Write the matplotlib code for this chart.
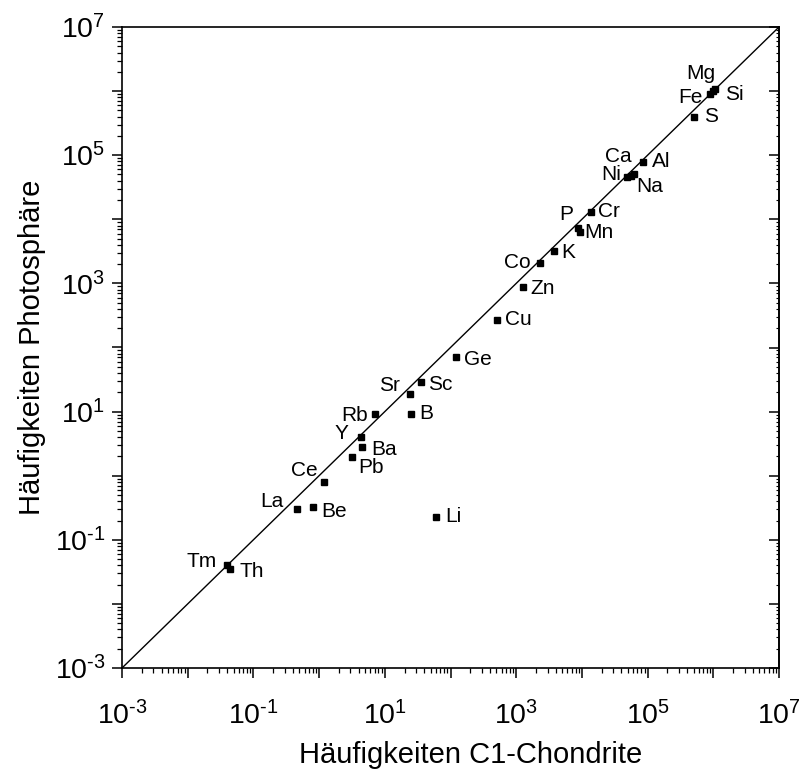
import numpy as np
import matplotlib.pyplot as plt
import matplotlib.ticker as ticker

plt.rcParams['font.family'] = ['Liberation Sans', 'DejaVu Sans']
plt.rcParams['mathtext.fontset'] = 'custom'
plt.rcParams['mathtext.rm'] = 'Liberation Sans'

# element labels, chondrite abundance (x), photosphere abundance (y)
elements = ['Mg', 'Si', 'Fe', 'S', 'Al', 'Ca', 'Na', 'Ni', 'Cr', 'P', 'Mn', 'K',
            'Co', 'Zn', 'Cu', 'Ge', 'Sc', 'Sr', 'B', 'Rb', 'Y', 'Ba', 'Pb', 'Ce',
            'La', 'Be', 'Li', 'Tm', 'Th']
chondrite = [1.07e6, 1.0e6, 8.9e5, 5.0e5, 8.6e4, 6.2e4, 5.5e4, 4.9e4, 1.38e4, 8.8e3,
             9.3e3, 3.8e3, 2.3e3, 1.28e3, 517, 121, 35, 24, 24.8, 7.1, 4.3, 4.55,
             3.13, 1.19, 0.456, 0.82, 60, 0.039, 0.044]
photosphere = [1.07e6, 1.0e6, 8.9e5, 4.0e5, 7.7e4, 5.1e4, 4.8e4, 4.5e4, 1.3e4, 7.2e3,
               6.4e3, 3.2e3, 2.06e3, 890, 269, 72, 28.6, 18.6, 9.2, 9.1, 4.06, 2.83,
               1.96, 0.81, 0.30, 0.32, 0.224, 0.040, 0.035]
# label offsets in pixels (dx, dy)
offsets = [(-14, 16), (21, -3), (-20, -3), (18, 0), (18, 1), (-16, 17), (19, -11),
           (-16, 3), (18, 0), (-12, 14), (19, -1), (14, -1), (-23, 1), (19, -2),
           (21, 0), (22, -3), (20, -2), (-20, 9), (16, 0), (-20, -1), (-19, 3),
           (22, -3), (19, -11), (-20, 11), (-25, 8), (21, -4), (17, 1), (-25, 4),
           (22, -2)]

lims = [1e-3, 1e7]

fig = plt.figure(figsize=(8.01, 7.71), dpi=100)
ax = fig.add_axes([122 / 801, 103 / 771, 657 / 801, 641 / 771])

ax.plot(lims, lims, color='black', lw=1.0)
ax.plot(chondrite, photosphere, 's', color='black', markersize=4.5, lw=0)
for name, x, y, (dx, dy) in zip(elements, chondrite, photosphere, offsets):
    ax.annotate(name, (x, y), xytext=(dx, dy), textcoords='offset pixels',
                ha='center', va='center', fontsize=15)

ax.set_xscale('log')
ax.set_yscale('log')
ax.set_xlim(lims)
ax.set_ylim(lims)

major = ticker.LogLocator(base=10, numticks=20)
minor = ticker.LogLocator(base=10, subs=np.arange(2, 10), numticks=20)


def fmt(v, pos):
    e = int(round(np.log10(v)))
    if e % 2 == 0:
        return ''
    return r'$\mathregular{10^{%s}}$' % (r'\text{-}%d' % -e if e < 0 else '%d' % e)


for axis in (ax.xaxis, ax.yaxis):
    axis.set_major_locator(major)
    axis.set_minor_locator(minor)
    axis.set_major_formatter(ticker.FuncFormatter(fmt))
    axis.set_minor_formatter(ticker.NullFormatter())

ax.tick_params(which='major', direction='out', length=7, width=1.1, labelsize=20.5,
               top=False, right=False)
ax.tick_params(which='minor', direction='out', length=3.5, width=0.9,
               top=False, right=False)
ax.tick_params(axis='x', pad=17)
ax.tick_params(axis='y', pad=5)

# inward ticks on the right side
sec = ax.secondary_yaxis('right')
sec.yaxis.set_major_locator(major)
sec.yaxis.set_minor_locator(minor)
sec.yaxis.set_major_formatter(ticker.NullFormatter())
sec.yaxis.set_minor_formatter(ticker.NullFormatter())
sec.tick_params(which='major', direction='in', length=7, width=1.1)
sec.tick_params(which='minor', direction='in', length=2, width=0.8)

for s in ax.spines.values():
    s.set_linewidth(1.2)
sec.spines['right'].set_linewidth(1.2)

ax.set_xlabel('Häufigkeiten C1-Chondrite', fontsize=21)
ax.set_ylabel('Häufigkeiten Photosphäre', fontsize=21)
ax.xaxis.set_label_coords(0.53, -0.114)
ax.yaxis.set_label_coords(-0.115, 0.5)

fig.savefig('out.png', dpi=100)
